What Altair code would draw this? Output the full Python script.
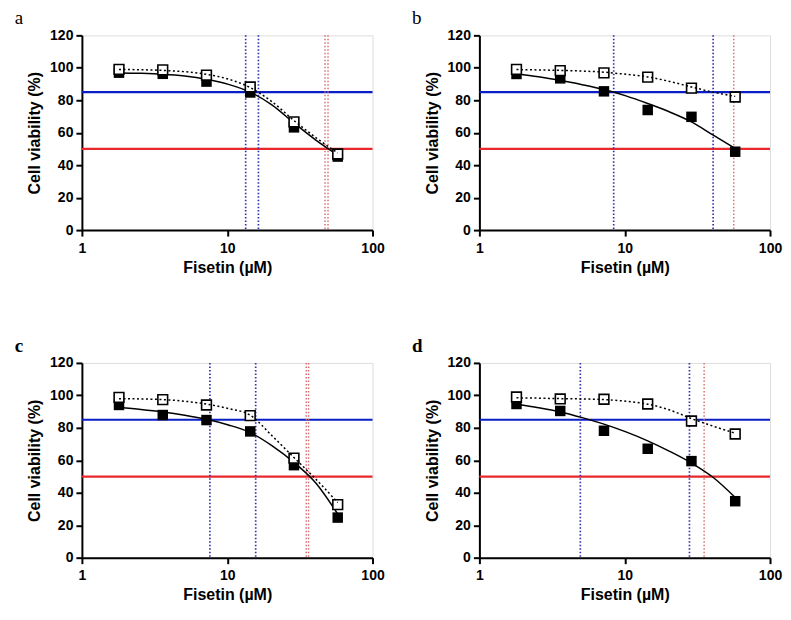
import altair as alt
import pandas as pd

doses = [1.8, 3.6, 7.2, 14.4, 28.8, 57.6]
curve_x = [1.8, 2.55, 3.6, 5.1, 7.2, 10.2, 14.4, 20.4, 28.8, 40.7, 57.6]

panel_labels = ["a", "b", "c", "d"]
panel_weights = ["normal", "normal", "bold", "bold"]

filled_a = [97.0, 96.3, 91.5, 84.8, 63.3, 45.3]
open_a = [99.0, 98.7, 95.5, 88.2, 66.7, 46.9]
solid_a = [96.8, 96.6, 96.1, 95.0, 93.0, 89.8, 85.0, 77.0, 66.0, 55.5, 46.3]
dotted_a = [99.0, 98.8, 98.4, 97.6, 96.0, 93.0, 87.8, 79.0, 67.5, 57.0, 47.5]
vblue_a = [13.4, 16.4]
vred_a = [47.1, 49.4]

filled_b = [96.2, 93.5, 85.5, 74.0, 69.8, 48.3]
open_b = [99.0, 98.3, 96.9, 94.3, 87.5, 82.0]
solid_b = [96.4, 94.5, 92.3, 89.6, 86.6, 82.7, 78.0, 72.8, 66.7, 58.5, 50.3]
dotted_b = [98.9, 98.7, 98.4, 98.0, 97.3, 96.0, 94.4, 91.6, 88.2, 85.0, 82.4]
vblue_b = [8.4, 40.6]
vred_b = [56.3]

filled_c = [94.1, 87.9, 84.8, 77.8, 57.0, 24.7]
open_c = [98.8, 97.4, 94.1, 87.5, 61.3, 32.7]
solid_c = [92.5, 91.3, 89.8, 87.8, 85.3, 81.8, 77.1, 68.9, 58.7, 46.0, 26.9]
dotted_c = [98.0, 97.8, 97.4, 96.4, 94.6, 91.9, 87.8, 75.0, 61.7, 48.4, 34.0]
vblue_c = [7.6, 15.7]
vred_c = [35.0, 36.3]

filled_d = [94.7, 90.4, 78.2, 67.1, 59.5, 34.8]
open_d = [99.0, 97.8, 97.6, 94.7, 84.2, 76.2]
solid_d = [94.6, 92.4, 89.8, 86.3, 82.3, 77.5, 72.0, 65.5, 58.3, 49.4, 37.1]
dotted_d = [98.5, 98.3, 98.0, 97.8, 97.4, 96.4, 94.6, 91.0, 85.7, 81.0, 76.7]
vblue_d = [4.95, 27.9]
vred_d = [35.2]

hline_blue = [85]
hline_red = [50]

panels = [
    (filled_a, open_a, solid_a, dotted_a, vblue_a, vred_a),
    (filled_b, open_b, solid_b, dotted_b, vblue_b, vred_b),
    (filled_c, open_c, solid_c, dotted_c, vblue_c, vred_c),
    (filled_d, open_d, solid_d, dotted_d, vblue_d, vred_d),
]

FONT = "Liberation Sans"
W, H = 291, 195

xscale = alt.Scale(type="log", domain=[1, 100], nice=False)
yscale = alt.Scale(domain=[0, 120], nice=False, zero=True)

xaxis = alt.Axis(values=[1, 10, 100], format="d", title="Fisetin (µM)",
                 grid=False, domainColor="black", domainWidth=2, tickColor="black",
                 tickWidth=2, tickSize=6, labelFont=FONT, labelFontWeight="bold",
                 labelFontSize=14, labelColor="black", labelPadding=5,
                 titleFont=FONT, titleFontWeight="bold", titleFontSize=16,
                 titleColor="black", titlePadding=4, labelFlush=False, labelOverlap=False)
yaxis = alt.Axis(values=[0, 20, 40, 60, 80, 100, 120], title="Cell viability (%)",
                 grid=False, domainColor="black", domainWidth=2, tickColor="black",
                 tickWidth=2, tickSize=6, labelFont=FONT, labelFontWeight="bold",
                 labelFontSize=14, labelColor="black", labelPadding=3,
                 titleFont=FONT, titleFontWeight="bold", titleFontSize=16,
                 titleColor="black", titlePadding=7, labelOverlap=False)


def X(field):
    return alt.X(field, type="quantitative", scale=xscale, axis=xaxis)


def Y(field):
    return alt.Y(field, type="quantitative", scale=yscale, axis=yaxis)


def make_panel(i):
    filled, opn, solid, dotted, vblue, vred = panels[i]
    pts = pd.DataFrame({"dose": doses, "filled": filled, "open": opn})
    crv = pd.DataFrame({"x": curve_x, "solid": solid, "dotted": dotted})
    vb = pd.DataFrame({"x": vblue})
    vr = pd.DataFrame({"x": vred})
    hb = pd.DataFrame({"y": hline_blue})
    hr = pd.DataFrame({"y": hline_red})

    l_hb = alt.Chart(hb).mark_rule(color="#0a1ec8", strokeWidth=2.2).encode(y=Y("y"))
    l_hr = alt.Chart(hr).mark_rule(color="#e8282c", strokeWidth=2.2).encode(y=Y("y"))
    l_vb = alt.Chart(vb).mark_rule(color="#3232b0", strokeWidth=1.7, strokeDash=[1.5, 2]).encode(x=X("x"))
    l_vr = alt.Chart(vr).mark_rule(color="#d66a6a", strokeWidth=1.4, strokeDash=[1.5, 2]).encode(x=X("x"))
    l_filled = alt.Chart(pts).mark_square(size=110, color="black", opacity=1).encode(
        x=X("dose"), y=Y("filled"))
    l_solid = alt.Chart(crv).mark_line(color="black", strokeWidth=1.5, interpolate="monotone").encode(
        x=X("x"), y=Y("solid"))
    l_open = alt.Chart(pts).mark_square(size=95, fill="white", stroke="black", strokeWidth=1.6,
                                        opacity=1, fillOpacity=1).encode(
        x=X("dose"), y=Y("open"))
    l_dotted = alt.Chart(crv).mark_line(color="black", strokeWidth=1.5, strokeDash=[2, 2.5],
                                        interpolate="monotone").encode(
        x=X("x"), y=Y("dotted"))

    return alt.layer(l_hb, l_hr, l_vb, l_vr, l_filled, l_solid, l_open, l_dotted).properties(
        width=W, height=H,
        title=alt.TitleParams(text=panel_labels[i], font="Liberation Serif", fontSize=19,
                              fontWeight=panel_weights[i], color="black", anchor="start",
                              frame="bounds", offset=0, dx=-12),
    )


row1 = alt.hconcat(make_panel(0), make_panel(1), spacing=26)
row2 = alt.hconcat(make_panel(2), make_panel(3), spacing=26)
chart = alt.vconcat(row1, row2, spacing=60).configure_view(stroke=None).configure_axis(
    labelOverlap=False).configure(
    background="white", padding={"left": 6, "top": 0, "right": 0, "bottom": 0})

chart.save("out.html", embed_options={"renderer": "svg", "actions": False})
